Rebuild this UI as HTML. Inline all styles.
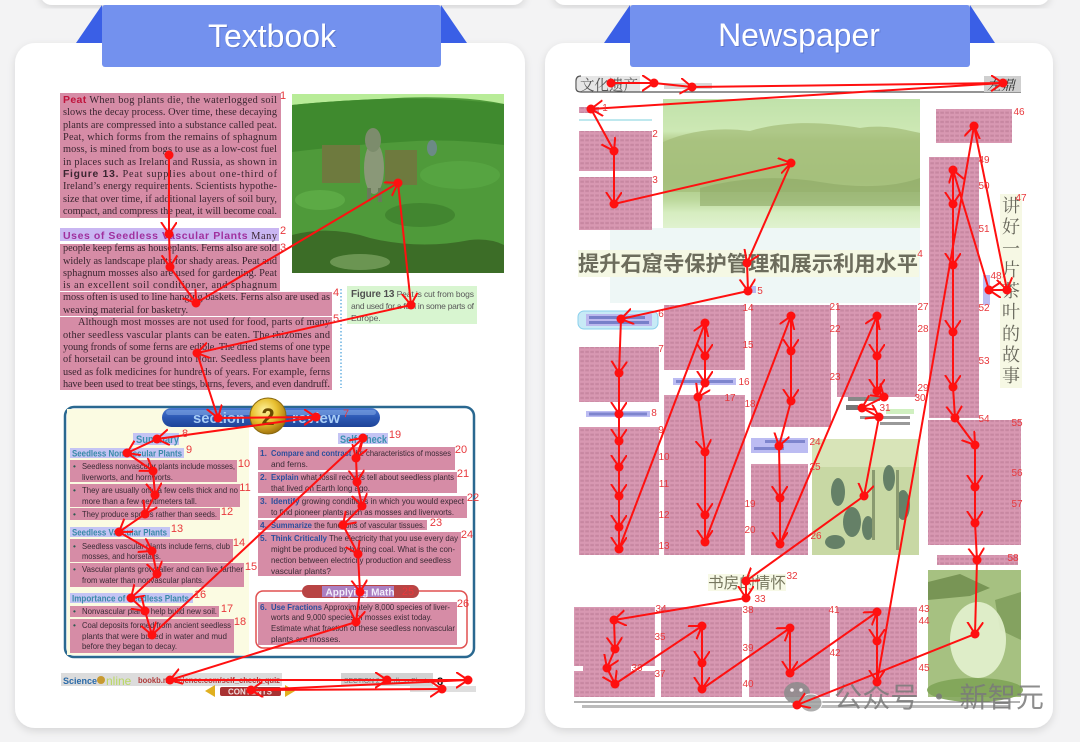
<!DOCTYPE html>
<html><head><meta charset="utf-8"><style>
html,body{margin:0;padding:0;background:#f3f3f4;}
svg{display:block}
</style></head><body>
<svg xmlns="http://www.w3.org/2000/svg" xmlns:xlink="http://www.w3.org/1999/xlink" width="1080" height="742" viewBox="0 0 1080 742" font-family="'Liberation Sans','Noto Sans CJK SC',sans-serif">
<defs>
<filter id="sh" x="-5%" y="-5%" width="110%" height="115%"><feDropShadow dx="0" dy="3" stdDeviation="4" flood-color="#000" flood-opacity="0.12"/></filter>
<marker id="ah" markerUnits="userSpaceOnUse" markerWidth="16" markerHeight="18" refX="12" refY="8" orient="auto"><path d="M0,0 L12,8 L0,16" fill="none" stroke="#ff1010" stroke-width="2"/></marker>
<pattern id="tx" width="5" height="4.6" patternUnits="userSpaceOnUse"><rect x="0.3" y="1.2" width="3.6" height="2.2" fill="#7a3a55" opacity="0.18"/></pattern>
<radialGradient id="gold" cx="0.4" cy="0.35" r="0.7"><stop offset="0" stop-color="#fff4a0"/><stop offset="0.5" stop-color="#e8c030"/><stop offset="1" stop-color="#9a6a08"/></radialGradient>
<linearGradient id="gland" x1="0" y1="0" x2="0" y2="1"><stop offset="0" stop-color="#c0e2aa"/><stop offset="0.25" stop-color="#cde8b4"/><stop offset="0.32" stop-color="#b6cf90"/><stop offset="0.62" stop-color="#a8c582"/><stop offset="0.78" stop-color="#bcd89c"/><stop offset="0.88" stop-color="#d6edc0"/><stop offset="1" stop-color="#e0f2cf"/></linearGradient>
<linearGradient id="pill" x1="0" y1="0" x2="0" y2="1"><stop offset="0" stop-color="#4a78d0"/><stop offset="0.5" stop-color="#2c58b4"/><stop offset="1" stop-color="#1e4498"/></linearGradient>
<g id="nb">
<rect x="579" y="107" width="20" height="6"/>
<rect x="579" y="131" width="73" height="40"/>
<rect x="579" y="177" width="73" height="53"/>
<rect x="936" y="109" width="76" height="34"/>
<rect x="929" y="157" width="50" height="261"/>
<rect x="928" y="420" width="93" height="125"/>
<rect x="937" y="555" width="81" height="10"/>
<rect x="579" y="347" width="80" height="55"/>
<rect x="579" y="427" width="80" height="128"/>
<rect x="664" y="305" width="81" height="65"/>
<rect x="664" y="395" width="81" height="160"/>
<rect x="751" y="305" width="80" height="122"/>
<rect x="751" y="464" width="57" height="91"/>
<rect x="837" y="305" width="80" height="92"/>
<rect x="574" y="607" width="81" height="90"/>
<rect x="661" y="607" width="81" height="90"/>
<rect x="749" y="607" width="81" height="90"/>
<rect x="837" y="607" width="80" height="90"/>
</g>
</defs>

<rect width="1080" height="742" fill="#f3f3f4"/>
<rect x="40" y="-30" width="485" height="35" rx="12" fill="#fff" filter="url(#sh)"/>
<rect x="553" y="-30" width="497" height="35" rx="12" fill="#fff" filter="url(#sh)"/>
<rect x="15" y="43" width="510" height="685" rx="20" fill="#fff" filter="url(#sh)"/>
<rect x="545" y="43" width="508" height="685" rx="20" fill="#fff" filter="url(#sh)"/>

<!-- banners -->
<polygon points="102,5 76,43 102,43" fill="#3a5fe6"/>
<polygon points="441,5 467,43 441,43" fill="#3a5fe6"/>
<rect x="102" y="5" width="339" height="62" rx="3" fill="#7391ee"/>
<text x="273" y="48" font-size="32" fill="#4a60b0" opacity="0.5" text-anchor="middle">Textbook</text>
<text x="272" y="47" font-size="32" fill="#fff" text-anchor="middle">Textbook</text>
<polygon points="630,5 604,43 630,43" fill="#3a5fe6"/>
<polygon points="970,5 995,43 970,43" fill="#3a5fe6"/>
<rect x="630" y="5" width="340" height="62" rx="3" fill="#7391ee"/>
<text x="800" y="47" font-size="32" fill="#4a60b0" opacity="0.5" text-anchor="middle">Newspaper</text>
<text x="799" y="46" font-size="32" fill="#fff" text-anchor="middle">Newspaper</text>

<!-- ============ TEXTBOOK ============ -->
<rect x="60" y="93" width="221" height="125" fill="#d68ca6"/>
<rect x="60" y="228" width="219" height="13" fill="#c9b6f2"/>
<rect x="60" y="244" width="220" height="47" fill="#d68ca6"/>
<rect x="60" y="292" width="272" height="24" fill="#d68ca6"/>
<rect x="60" y="317" width="272" height="73" fill="#d68ca6"/>

<g font-family="'Liberation Serif',serif" font-size="10.3" fill="#3a2530">
<text x="63" y="103" textLength="214" lengthAdjust="spacing"><tspan font-family="'Liberation Sans',sans-serif" font-weight="bold" fill="#c0143c" font-size="10.5">Peat</tspan>  When bog plants die, the waterlogged soil</text>
<text x="63" y="115" textLength="214" lengthAdjust="spacing">slows the decay process. Over time, these decaying</text>
<text x="63" y="128" textLength="214" lengthAdjust="spacing">plants are compressed into a substance called peat.</text>
<text x="63" y="140" textLength="214" lengthAdjust="spacing">Peat, which forms from the remains of sphagnum</text>
<text x="63" y="152" textLength="214" lengthAdjust="spacing">moss, is mined from bogs to use as a low-cost fuel</text>
<text x="63" y="165" textLength="214" lengthAdjust="spacing">in places such as Ireland and Russia, as shown in</text>
<text x="63" y="177" textLength="214" lengthAdjust="spacing"><tspan font-family="'Liberation Sans',sans-serif" font-weight="bold">Figure 13.</tspan>  Peat supplies about one-third of</text>
<text x="63" y="189" textLength="214" lengthAdjust="spacing">Ireland’s energy requirements. Scientists hypothe-</text>
<text x="63" y="202" textLength="214" lengthAdjust="spacing">size that over time, if additional layers of soil bury,</text>
<text x="63" y="214" textLength="214" lengthAdjust="spacing">compact, and compress the peat, it will become coal.</text>
<text x="63" y="239" textLength="214" lengthAdjust="spacing"><tspan font-family="'Liberation Sans',sans-serif" font-weight="bold" fill="#a0309e" font-size="10.5">Uses of Seedless Vascular Plants</tspan>  Many</text>
<text x="63" y="251" textLength="214" lengthAdjust="spacing">people keep ferns as houseplants. Ferns also are sold</text>
<text x="63" y="264" textLength="214" lengthAdjust="spacing">widely as landscape plants for shady areas. Peat and</text>
<text x="63" y="276" textLength="214" lengthAdjust="spacing">sphagnum mosses also are used for gardening. Peat</text>
<text x="63" y="288" textLength="214" lengthAdjust="spacing">is an excellent soil conditioner, and sphagnum</text>
<text x="63" y="300" textLength="267" lengthAdjust="spacing">moss often is used to line hanging baskets. Ferns also are used as</text>
<text x="63" y="313">weaving material for basketry.</text>
<text x="78" y="325" textLength="252" lengthAdjust="spacing">Although most mosses are not used for food, parts of many</text>
<text x="63" y="338" textLength="267" lengthAdjust="spacing">other seedless vascular plants can be eaten. The rhizomes and</text>
<text x="63" y="350" textLength="267" lengthAdjust="spacing">young fronds of some ferns are edible. The dried stems of one type</text>
<text x="63" y="362" textLength="267" lengthAdjust="spacing">of horsetail can be ground into flour. Seedless plants have been</text>
<text x="63" y="375" textLength="267" lengthAdjust="spacing">used as folk medicines for hundreds of years. For example, ferns</text>
<text x="63" y="387" textLength="267" lengthAdjust="spacing">have been used to treat bee stings, burns, fevers, and even dandruff.</text>
</g>

<!-- donkey image -->
<rect x="292" y="94" width="212" height="179" fill="#4f9a3a"/>
<path d="M292,94 H504 V104 Q480,99 455,98 Q420,96 380,99 Q330,101 292,105 Z" fill="#b8ec98"/>
<path d="M292,105 Q330,101 380,99 Q440,97 504,104 V145 Q450,138 400,142 Q340,146 292,152 Z" fill="#3f8a2e"/>
<ellipse cx="460" cy="175" rx="40" ry="14" fill="#5aa844" opacity="0.7"/>
<ellipse cx="320" cy="200" rx="25" ry="10" fill="#62b04a" opacity="0.7"/>
<ellipse cx="420" cy="215" rx="35" ry="12" fill="#3a7a2a" opacity="0.6"/>
<path d="M292,235 Q330,225 370,238 Q420,250 470,240 Q490,238 504,245 V273 H292Z" fill="#355e22" opacity="0.75"/>
<ellipse cx="360" cy="262" rx="30" ry="8" fill="#8ab070" opacity="0.6"/>
<rect x="322" y="145" width="38" height="38" fill="#6e7a3e"/>
<rect x="385" y="150" width="32" height="35" fill="#6e7a3e"/>
<ellipse cx="374" cy="168" rx="10" ry="26" fill="#8a9878"/>
<ellipse cx="373" cy="140" rx="8" ry="12" fill="#7c8c6c"/>
<rect x="367" y="188" width="4" height="14" fill="#6a7a5a"/>
<rect x="378" y="188" width="4" height="14" fill="#6a7a5a"/>
<ellipse cx="432" cy="148" rx="5" ry="8" fill="#6c8a86"/>

<!-- figure caption -->
<rect x="347" y="286" width="130" height="38" fill="#d8f5d0"/>
<g fill="#5a5a5a" font-size="8.5">
<text x="351" y="297" textLength="123" lengthAdjust="spacing"><tspan font-weight="bold" font-size="10" fill="#505050">Figure 13</tspan>  Peat is cut from bogs</text>
<text x="351" y="309" textLength="123" lengthAdjust="spacing">and used for a fuel in some parts of</text>
<text x="351" y="321">Europe.</text>
</g>
<line x1="341" y1="289" x2="341" y2="388" stroke="#6ab2e2" stroke-width="1.5" stroke-dasharray="1.5 2"/>

<!-- section review -->
<rect x="65" y="407" width="409" height="250" rx="9" fill="#fff" stroke="#2a6890" stroke-width="2.5"/>
<rect x="67" y="409" width="182" height="246" fill="#fbfbe2"/>
<rect x="162" y="408" width="218" height="19" rx="9.5" fill="url(#pill)"/>
<rect x="166" y="410" width="210" height="5" rx="2.5" fill="#8ab0ea" opacity="0.5"/>
<text x="193" y="423" font-size="15" font-weight="bold" fill="#a8cdf6" textLength="52" lengthAdjust="spacingAndGlyphs">section</text>
<text x="292" y="423" font-size="15" font-weight="bold" fill="#a8cdf6" textLength="48" lengthAdjust="spacingAndGlyphs">review</text>
<circle cx="268" cy="416" r="18" fill="url(#gold)" stroke="#8a6a10" stroke-width="1"/>
<text x="268" y="425" font-size="24" font-weight="bold" fill="#6a4a00" text-anchor="middle">2</text>

<rect x="133" y="433" width="46" height="12" fill="#c4c4f4"/>
<text x="136" y="443" font-size="11" font-weight="bold" fill="#3c90b0" textLength="43" lengthAdjust="spacingAndGlyphs">Summary</text>
<rect x="70" y="448" width="114" height="10" fill="#c4c4f4"/>
<text x="72" y="456.5" font-size="9" font-weight="bold" fill="#3a8aa8" textLength="110" lengthAdjust="spacingAndGlyphs">Seedless Nonvascular Plants</text>
<rect x="70" y="460" width="167" height="22" fill="#d68ca6"/>
<rect x="70" y="484" width="170" height="23" fill="#d68ca6"/>
<rect x="70" y="508" width="150" height="12" fill="#d68ca6"/>
<rect x="70" y="527" width="100" height="10" fill="#c4c4f4"/>
<text x="72" y="535.5" font-size="9" font-weight="bold" fill="#3a8aa8" textLength="95" lengthAdjust="spacingAndGlyphs">Seedless Vascular Plants</text>
<rect x="70" y="539" width="163" height="23" fill="#d68ca6"/>
<rect x="70" y="563" width="174" height="24" fill="#d68ca6"/>
<rect x="70" y="593" width="123" height="10" fill="#c4c4f4"/>
<text x="72" y="601.5" font-size="9" font-weight="bold" fill="#3a8aa8" textLength="117" lengthAdjust="spacingAndGlyphs">Importance of Seedless Plants</text>
<rect x="70" y="606" width="149" height="11" fill="#d68ca6"/>
<rect x="70" y="619" width="164" height="34" fill="#d68ca6"/>

<g font-size="8.3" fill="#3a2a35">
<g fill="#2a5a50"><text x="73" y="469">•</text><text x="73" y="493">•</text><text x="73" y="517">•</text><text x="73" y="549">•</text><text x="73" y="572">•</text><text x="73" y="614">•</text><text x="73" y="628">•</text></g>
<text x="82" y="469" textLength="153" lengthAdjust="spacingAndGlyphs">Seedless nonvascular plants include mosses,</text>
<text x="82" y="480" textLength="91" lengthAdjust="spacingAndGlyphs">liverworts, and hornworts.</text>
<text x="82" y="493" textLength="156" lengthAdjust="spacingAndGlyphs">They are usually only a few cells thick and no</text>
<text x="82" y="504" textLength="115" lengthAdjust="spacingAndGlyphs">more than a few centimeters tall.</text>
<text x="82" y="517" textLength="135" lengthAdjust="spacingAndGlyphs">They produce spores rather than seeds.</text>
<text x="82" y="549" textLength="148" lengthAdjust="spacingAndGlyphs">Seedless vascular plants include ferns, club</text>
<text x="82" y="559" textLength="79" lengthAdjust="spacingAndGlyphs">mosses, and horsetails.</text>
<text x="82" y="572" textLength="161" lengthAdjust="spacingAndGlyphs">Vascular plants grow taller and can live farther</text>
<text x="82" y="583" textLength="122" lengthAdjust="spacingAndGlyphs">from water than nonvascular plants.</text>
<text x="82" y="614" textLength="135" lengthAdjust="spacingAndGlyphs">Nonvascular plants help build new soil.</text>
<text x="82" y="628" textLength="149" lengthAdjust="spacingAndGlyphs">Coal deposits formed from ancient seedless</text>
<text x="82" y="639" textLength="145" lengthAdjust="spacingAndGlyphs">plants that were buried in water and mud</text>
<text x="82" y="649" textLength="95" lengthAdjust="spacingAndGlyphs">before they began to decay.</text>
</g>

<rect x="338" y="433" width="50" height="11" fill="#c4c4f4"/>
<text x="340" y="443" font-size="11" font-weight="bold" fill="#3c90b0" textLength="47" lengthAdjust="spacingAndGlyphs">Self Check</text>
<rect x="258" y="447" width="197" height="23" fill="#d68ca6"/>
<rect x="258" y="472" width="199" height="21" fill="#d68ca6"/>
<rect x="258" y="496" width="209" height="22" fill="#d68ca6"/>
<rect x="258" y="520" width="169" height="10" fill="#d68ca6"/>
<rect x="258" y="532" width="203" height="44" fill="#d68ca6"/>
<rect x="256" y="591" width="211" height="57" rx="7" fill="none" stroke="#e05050" stroke-width="1.5"/>
<rect x="258" y="602" width="199" height="43" fill="#d68ca6"/>
<rect x="302" y="585" width="117" height="13" rx="6.5" fill="#b84444"/>
<rect x="322" y="586" width="72" height="11" fill="#a88ad8" opacity="0.85"/>
<text x="360" y="595.5" font-size="10" font-weight="bold" fill="#f2eefa" text-anchor="middle">Applying Math</text>

<g font-size="8.3" fill="#3a2a35">
<g font-weight="bold" fill="#2c4f9c"><text x="260" y="456">1.</text><text x="260" y="480">2.</text><text x="260" y="504">3.</text><text x="260" y="528">4.</text><text x="260" y="541">5.</text><text x="260" y="610">6.</text></g>
<text x="271" y="456" textLength="180" lengthAdjust="spacingAndGlyphs"><tspan font-weight="bold" fill="#2c4f9c">Compare and contrast</tspan> the characteristics of mosses</text>
<text x="271" y="467">and ferns.</text>
<text x="271" y="480" textLength="183" lengthAdjust="spacingAndGlyphs"><tspan font-weight="bold" fill="#2c4f9c">Explain</tspan> what fossil records tell about seedless plants</text>
<text x="271" y="491" textLength="99" lengthAdjust="spacingAndGlyphs">that lived on Earth long ago.</text>
<text x="271" y="504" textLength="193" lengthAdjust="spacingAndGlyphs"><tspan font-weight="bold" fill="#2c4f9c">Identify</tspan> growing conditions in which you would expect</text>
<text x="271" y="515" textLength="183" lengthAdjust="spacingAndGlyphs">to find pioneer plants such as mosses and liverworts.</text>
<text x="271" y="528" textLength="154" lengthAdjust="spacingAndGlyphs"><tspan font-weight="bold" fill="#2c4f9c">Summarize</tspan> the functions of vascular tissues.</text>
<text x="271" y="541" textLength="187" lengthAdjust="spacingAndGlyphs"><tspan font-weight="bold" fill="#2c4f9c">Think Critically</tspan>  The electricity that you use every day</text>
<text x="271" y="552" textLength="184" lengthAdjust="spacingAndGlyphs">might be produced by burning coal. What is the con-</text>
<text x="271" y="563" textLength="180" lengthAdjust="spacingAndGlyphs">nection between electricity production and seedless</text>
<text x="271" y="574">vascular plants?</text>
<text x="271" y="610" textLength="179" lengthAdjust="spacingAndGlyphs"><tspan font-weight="bold" fill="#2c4f9c">Use Fractions</tspan>  Approximately 8,000 species of liver-</text>
<text x="271" y="620" textLength="161" lengthAdjust="spacingAndGlyphs">worts and 9,000 species of mosses exist today.</text>
<text x="271" y="631" textLength="184" lengthAdjust="spacingAndGlyphs">Estimate what fraction of these seedless nonvascular</text>
<text x="271" y="642">plants are mosses.</text>
</g>

<!-- footer textbook -->
<rect x="61" y="673" width="221" height="13" fill="#dcdcdc"/>
<text x="63" y="684" font-size="9" font-weight="bold" fill="#2a6aa8">Science</text>
<circle cx="101" cy="680" r="4" fill="#c89a30"/>
<text x="106" y="685" font-size="12" fill="#b8d860">nline</text>
<text x="138" y="683" font-size="8" font-weight="bold" fill="#b03a3a" textLength="142" lengthAdjust="spacingAndGlyphs">bookb.msscience.com/self_check_quiz</text>
<rect x="341" y="673" width="92" height="13" fill="#d2d2d2"/>
<text x="344" y="683" font-size="7" fill="#777" textLength="86" lengthAdjust="spacingAndGlyphs">SECTION 2  Seedless Plants</text>
<text x="437" y="685" font-size="11" font-weight="bold" fill="#111">8</text>
<rect x="410" y="686" width="66" height="6" fill="#dedede"/>
<polygon points="215,685 205,691 215,697" fill="#e0b020"/>
<polygon points="285,685 295,691 285,697" fill="#e0b020"/>
<rect x="220" y="687" width="61" height="9" rx="2" fill="#a83232"/>
<text x="250" y="694.5" font-size="8" font-weight="bold" fill="#f0e0e0" text-anchor="middle">CONTENTS</text>

<!-- ============ NEWSPAPER ============ -->
<rect x="610" y="228" width="310" height="75" fill="#eef7f6"/>
<rect x="577" y="76" width="63" height="16" fill="#e6e6e6"/>
<text x="580" y="90" font-size="15" font-family="'Noto Serif CJK SC','Noto Sans CJK SC',serif" fill="#555" textLength="58" lengthAdjust="spacingAndGlyphs">文化遗产</text>
<path d="M581,76 Q576,76 576,81 V88 Q576,92 581,92 H1021" stroke="#555" fill="none" stroke-width="1.2"/>
<rect x="664" y="83" width="48" height="6" fill="#d8d8d8"/>
<rect x="984" y="76" width="37" height="16" fill="#cfcfcf"/>
<text x="987" y="90" font-size="14" font-style="italic" font-family="'Noto Serif CJK SC',serif" fill="#333">左鼎</text>
<line x1="579" y1="120" x2="652" y2="120" stroke="#a8e0e8" stroke-width="1.5"/>

<use xlink:href="#nb" href="#nb" fill="#d898b2"/>
<use xlink:href="#nb" href="#nb" fill="url(#tx)"/>
<rect x="574" y="666" width="9" height="5" fill="#fff"/>
<rect x="631" y="666" width="24" height="5" fill="#fff"/>

<!-- landscape image -->
<rect x="663" y="99" width="257" height="129" fill="url(#gland)"/>
<path d="M663,142 C690,130 720,127 750,131 C790,119 830,123 860,128 C885,124 905,130 920,133 V192 H663Z" fill="#a4bd7a" opacity="0.75"/>
<path d="M700,188 Q760,172 820,182 T920,178 V206 H700Z" fill="#8ea866" opacity="0.6"/>

<!-- title -->
<rect x="578" y="250" width="341" height="27" fill="#f5f8e4"/>
<text x="578" y="271" font-size="21" font-weight="bold" font-family="'Liberation Sans','Noto Sans CJK SC',sans-serif" fill="#6c6c5c" textLength="340" lengthAdjust="spacingAndGlyphs">提升石窟寺保护管理和展示利用水平</text>
<rect x="750" y="286" width="6" height="7" fill="#b8b8f0"/>

<!-- item 6 bubble -->
<rect x="578" y="311" width="80" height="18" rx="6" fill="#c8eaf6" stroke="#8ad0ec" stroke-width="1"/>
<rect x="586" y="314" width="66" height="12" fill="#bcb8ee"/>
<rect x="589" y="316" width="56" height="3" fill="#4a58b0" opacity="0.6"/>
<rect x="589" y="321" width="60" height="3" fill="#4a58b0" opacity="0.6"/>

<!-- lavender tags -->
<rect x="586" y="411" width="64" height="6" fill="#bcbcf2"/><rect x="589" y="412.5" width="58" height="3" fill="#4a58b0" opacity="0.55"/>
<rect x="673" y="378" width="63" height="7" fill="#bcbcf2"/><rect x="676" y="380" width="57" height="3" fill="#4a58b0" opacity="0.55"/>
<rect x="751" y="438" width="57" height="15" fill="#bcbcf2"/><rect x="765" y="440" width="40" height="3" fill="#4a58b0" opacity="0.55"/><rect x="754" y="447" width="30" height="3" fill="#4a58b0" opacity="0.55"/>
<rect x="983" y="275" width="7" height="30" fill="#bcbcf2"/>

<!-- col D small items -->
<rect x="848" y="397" width="32" height="4" fill="#888"/>
<rect x="846" y="405" width="12" height="5" fill="#777"/>
<rect x="886" y="409" width="28" height="5" fill="#d0f0c0"/>
<rect x="860" y="416" width="50" height="3" fill="#999"/>
<rect x="880" y="422" width="30" height="3" fill="#999"/>

<!-- people image -->
<rect x="812" y="439" width="107" height="116" fill="#c8d8a4"/>
<rect x="812" y="439" width="107" height="28" fill="#d8e4b8"/>
<g fill="#4d6b58" opacity="0.8">
<ellipse cx="838" cy="492" rx="7" ry="14"/><ellipse cx="852" cy="522" rx="9" ry="15"/><ellipse cx="835" cy="542" rx="10" ry="7"/>
<ellipse cx="889" cy="478" rx="6" ry="13"/><ellipse cx="903" cy="505" rx="7" ry="15"/><ellipse cx="868" cy="528" rx="6" ry="12"/>
</g>
<rect x="872" y="470" width="3" height="70" fill="#8a9a70"/><rect x="896" y="470" width="3" height="80" fill="#8a9a70"/>

<!-- pagoda image -->
<rect x="928" y="570" width="93" height="127" fill="#a6c181"/>
<polygon points="928,582 960,574 990,588 970,596 928,600" fill="#6d8a4a" opacity="0.8"/>
<polygon points="995,600 1021,592 1021,640 1000,630" fill="#7c9a58" opacity="0.8"/>
<ellipse cx="978" cy="640" rx="28" ry="38" fill="#e4f2cf" opacity="0.9"/>
<ellipse cx="975" cy="690" rx="48" ry="12" fill="#7fa457" opacity="0.9"/>

<!-- second title -->
<rect x="708" y="574" width="78" height="17" fill="#f7f9e6"/>
<text x="708" y="588" font-size="15.5" font-family="'Noto Sans CJK SC',sans-serif" fill="#77775f" textLength="78" lengthAdjust="spacingAndGlyphs">书房的情怀</text>

<!-- vertical title -->
<rect x="1000" y="194" width="22" height="194" fill="#f6f8e4"/>
<g font-size="18" font-family="'Noto Serif CJK SC','Noto Sans CJK SC',serif" fill="#66665a" text-anchor="middle">
<text x="1011" y="212">讲</text><text x="1011" y="233">好</text><text x="1011" y="255">一</text><text x="1011" y="276">片</text><text x="1011" y="297">茶</text><text x="1011" y="318">叶</text><text x="1011" y="340">的</text><text x="1011" y="361">故</text><text x="1011" y="382">事</text>
</g>

<!-- bottom rule -->
<line x1="574" y1="702" x2="1020" y2="702" stroke="#666" stroke-width="1"/>
<rect x="582" y="705" width="428" height="3" fill="#bbb"/>

<!-- watermark -->
<g opacity="0.85">
<ellipse cx="797" cy="693" rx="13" ry="11" fill="#8c8c8c"/>
<ellipse cx="811" cy="703" rx="11" ry="9" fill="#a0a0a0" stroke="#fff" stroke-width="1"/>
<circle cx="792" cy="690" r="1.8" fill="#fff"/><circle cx="801" cy="690" r="1.8" fill="#fff"/>
<text x="834" y="707" font-size="28" font-family="'Noto Sans CJK SC',sans-serif" fill="#7a7a7a" textLength="210" lengthAdjust="spacingAndGlyphs">公众号 · 新智元</text>
</g>

<!-- ============ ARROWS ============ -->
<g stroke="#ff1010" stroke-width="2" marker-end="url(#ah)">
<line x1="169" y1="155" x2="169" y2="234"/><line x1="169" y1="234" x2="170" y2="267"/><line x1="170" y1="267" x2="196" y2="303"/><line x1="196" y1="303" x2="398" y2="183"/><line x1="398" y1="183" x2="411" y2="305"/><line x1="411" y1="305" x2="197" y2="353"/><line x1="197" y1="353" x2="218" y2="418"/><line x1="218" y1="418" x2="316" y2="417"/><line x1="316" y1="417" x2="157" y2="439"/><line x1="157" y1="439" x2="127" y2="453"/><line x1="127" y1="453" x2="153" y2="471"/><line x1="153" y1="471" x2="155" y2="495"/><line x1="155" y1="495" x2="145" y2="514"/><line x1="145" y1="514" x2="119" y2="532"/><line x1="119" y1="532" x2="152" y2="551"/><line x1="152" y1="551" x2="157" y2="574"/><line x1="157" y1="574" x2="131" y2="598"/><line x1="131" y1="598" x2="145" y2="611"/><line x1="145" y1="611" x2="152" y2="635"/><line x1="152" y1="635" x2="363" y2="438"/><line x1="363" y1="438" x2="356" y2="458"/><line x1="356" y1="458" x2="357" y2="482"/><line x1="357" y1="482" x2="362" y2="506"/><line x1="362" y1="506" x2="343" y2="525"/><line x1="343" y1="525" x2="358" y2="554"/><line x1="358" y1="554" x2="360" y2="592"/><line x1="360" y1="592" x2="356" y2="622"/><line x1="356" y1="622" x2="170" y2="680"/><line x1="170" y1="680" x2="387" y2="680"/><line x1="387" y1="680" x2="468" y2="680"/><line x1="468" y1="680" x2="251" y2="690"/><line x1="251" y1="690" x2="442" y2="689"/>

<line x1="611" y1="83" x2="654" y2="83"/><line x1="654" y1="83" x2="692" y2="87"/><line x1="692" y1="87" x2="1003" y2="83"/><line x1="1003" y1="83" x2="591" y2="109"/><line x1="591" y1="109" x2="614" y2="151"/><line x1="614" y1="151" x2="614" y2="204"/><line x1="614" y1="204" x2="791" y2="163"/><line x1="791" y1="163" x2="747" y2="263"/><line x1="747" y1="263" x2="748" y2="291"/><line x1="748" y1="291" x2="621" y2="319"/><line x1="621" y1="319" x2="619" y2="373"/><line x1="619" y1="373" x2="619" y2="414"/><line x1="619" y1="414" x2="619" y2="441"/><line x1="619" y1="441" x2="619" y2="467"/><line x1="619" y1="467" x2="619" y2="496"/><line x1="619" y1="496" x2="619" y2="527"/><line x1="619" y1="527" x2="619" y2="549"/><line x1="619" y1="549" x2="705" y2="323"/><line x1="705" y1="323" x2="705" y2="356"/><line x1="705" y1="356" x2="705" y2="383"/><line x1="705" y1="383" x2="698" y2="397"/><line x1="698" y1="397" x2="705" y2="452"/><line x1="705" y1="452" x2="705" y2="515"/><line x1="705" y1="515" x2="705" y2="542"/><line x1="705" y1="542" x2="791" y2="316"/><line x1="791" y1="316" x2="791" y2="351"/><line x1="791" y1="351" x2="791" y2="401"/><line x1="791" y1="401" x2="779" y2="446"/><line x1="779" y1="446" x2="780" y2="498"/><line x1="780" y1="498" x2="780" y2="544"/><line x1="780" y1="544" x2="877" y2="316"/><line x1="877" y1="316" x2="877" y2="356"/><line x1="877" y1="356" x2="877" y2="391"/><line x1="877" y1="391" x2="884" y2="397"/><line x1="884" y1="397" x2="862" y2="408"/><line x1="862" y1="408" x2="879" y2="417"/><line x1="879" y1="417" x2="864" y2="496"/><line x1="864" y1="496" x2="746" y2="581"/><line x1="746" y1="581" x2="746" y2="598"/><line x1="746" y1="598" x2="614" y2="620"/><line x1="614" y1="620" x2="615" y2="649"/><line x1="615" y1="649" x2="607" y2="668"/><line x1="607" y1="668" x2="615" y2="684"/><line x1="615" y1="684" x2="702" y2="626"/><line x1="702" y1="626" x2="702" y2="663"/><line x1="702" y1="663" x2="702" y2="689"/><line x1="702" y1="689" x2="790" y2="628"/><line x1="790" y1="628" x2="790" y2="673"/><line x1="790" y1="673" x2="877" y2="612"/><line x1="877" y1="612" x2="877" y2="641"/><line x1="877" y1="641" x2="877" y2="682"/><line x1="877" y1="682" x2="974" y2="126"/><line x1="974" y1="126" x2="1007" y2="290"/><line x1="1007" y1="290" x2="989" y2="290"/><line x1="989" y1="290" x2="953" y2="170"/><line x1="953" y1="170" x2="953" y2="204"/><line x1="953" y1="204" x2="953" y2="265"/><line x1="953" y1="265" x2="953" y2="332"/><line x1="953" y1="332" x2="953" y2="387"/><line x1="953" y1="387" x2="955" y2="418"/><line x1="955" y1="418" x2="975" y2="445"/><line x1="975" y1="445" x2="975" y2="487"/><line x1="975" y1="487" x2="975" y2="523"/><line x1="975" y1="523" x2="977" y2="560"/><line x1="977" y1="560" x2="975" y2="634"/><line x1="975" y1="634" x2="797" y2="705"/>
</g>
<g fill="#ff1010">
<circle cx="169" cy="155" r="4.5"/><circle cx="169" cy="234" r="4.5"/><circle cx="170" cy="267" r="4.5"/><circle cx="196" cy="303" r="4.5"/><circle cx="398" cy="183" r="4.5"/><circle cx="411" cy="305" r="4.5"/><circle cx="197" cy="353" r="4.5"/><circle cx="218" cy="418" r="4.5"/><circle cx="316" cy="417" r="4.5"/><circle cx="157" cy="439" r="4.5"/><circle cx="127" cy="453" r="4.5"/><circle cx="153" cy="471" r="4.5"/><circle cx="155" cy="495" r="4.5"/><circle cx="145" cy="514" r="4.5"/><circle cx="119" cy="532" r="4.5"/><circle cx="152" cy="551" r="4.5"/><circle cx="157" cy="574" r="4.5"/><circle cx="131" cy="598" r="4.5"/><circle cx="145" cy="611" r="4.5"/><circle cx="152" cy="635" r="4.5"/><circle cx="363" cy="438" r="4.5"/><circle cx="356" cy="458" r="4.5"/><circle cx="357" cy="482" r="4.5"/><circle cx="362" cy="506" r="4.5"/><circle cx="343" cy="525" r="4.5"/><circle cx="358" cy="554" r="4.5"/><circle cx="360" cy="592" r="4.5"/><circle cx="356" cy="622" r="4.5"/><circle cx="170" cy="680" r="4.5"/><circle cx="387" cy="680" r="4.5"/><circle cx="468" cy="680" r="4.5"/><circle cx="251" cy="690" r="4.5"/><circle cx="442" cy="689" r="4.5"/>
<circle cx="611" cy="83" r="4.5"/><circle cx="654" cy="83" r="4.5"/><circle cx="692" cy="87" r="4.5"/><circle cx="1003" cy="83" r="4.5"/><circle cx="591" cy="109" r="4.5"/><circle cx="614" cy="151" r="4.5"/><circle cx="614" cy="204" r="4.5"/><circle cx="791" cy="163" r="4.5"/><circle cx="747" cy="263" r="4.5"/><circle cx="748" cy="291" r="4.5"/><circle cx="621" cy="319" r="4.5"/><circle cx="619" cy="373" r="4.5"/><circle cx="619" cy="414" r="4.5"/><circle cx="619" cy="441" r="4.5"/><circle cx="619" cy="467" r="4.5"/><circle cx="619" cy="496" r="4.5"/><circle cx="619" cy="527" r="4.5"/><circle cx="619" cy="549" r="4.5"/><circle cx="705" cy="323" r="4.5"/><circle cx="705" cy="356" r="4.5"/><circle cx="705" cy="383" r="4.5"/><circle cx="698" cy="397" r="4.5"/><circle cx="705" cy="452" r="4.5"/><circle cx="705" cy="515" r="4.5"/><circle cx="705" cy="542" r="4.5"/><circle cx="791" cy="316" r="4.5"/><circle cx="791" cy="351" r="4.5"/><circle cx="791" cy="401" r="4.5"/><circle cx="779" cy="446" r="4.5"/><circle cx="780" cy="498" r="4.5"/><circle cx="780" cy="544" r="4.5"/><circle cx="877" cy="316" r="4.5"/><circle cx="877" cy="356" r="4.5"/><circle cx="877" cy="391" r="4.5"/><circle cx="884" cy="397" r="4.5"/><circle cx="862" cy="408" r="4.5"/><circle cx="879" cy="417" r="4.5"/><circle cx="864" cy="496" r="4.5"/><circle cx="746" cy="581" r="4.5"/><circle cx="746" cy="598" r="4.5"/><circle cx="614" cy="620" r="4.5"/><circle cx="615" cy="649" r="4.5"/><circle cx="607" cy="668" r="4.5"/><circle cx="615" cy="684" r="4.5"/><circle cx="702" cy="626" r="4.5"/><circle cx="702" cy="663" r="4.5"/><circle cx="702" cy="689" r="4.5"/><circle cx="790" cy="628" r="4.5"/><circle cx="790" cy="673" r="4.5"/><circle cx="877" cy="612" r="4.5"/><circle cx="877" cy="641" r="4.5"/><circle cx="877" cy="682" r="4.5"/><circle cx="974" cy="126" r="4.5"/><circle cx="1007" cy="290" r="4.5"/><circle cx="989" cy="290" r="4.5"/><circle cx="953" cy="170" r="4.5"/><circle cx="953" cy="204" r="4.5"/><circle cx="953" cy="265" r="4.5"/><circle cx="953" cy="332" r="4.5"/><circle cx="953" cy="387" r="4.5"/><circle cx="955" cy="418" r="4.5"/><circle cx="975" cy="445" r="4.5"/><circle cx="975" cy="487" r="4.5"/><circle cx="975" cy="523" r="4.5"/><circle cx="977" cy="560" r="4.5"/><circle cx="975" cy="634" r="4.5"/><circle cx="797" cy="705" r="4.5"/>
</g>

<!-- ============ LABELS ============ -->
<g font-size="11" fill="#e8383c" text-anchor="middle">
<text x="283" y="99">1</text><text x="283" y="234">2</text><text x="283" y="251">3</text><text x="336" y="296">4</text><text x="336" y="322">5</text><text x="346" y="417">7</text><text x="185" y="437">8</text><text x="189" y="453">9</text><text x="244" y="467">10</text><text x="245" y="491">11</text><text x="227" y="515">12</text><text x="177" y="532">13</text><text x="239" y="546">14</text><text x="251" y="570">15</text><text x="200" y="598">16</text><text x="227" y="612">17</text><text x="240" y="625">18</text><text x="395" y="438">19</text><text x="461" y="453">20</text><text x="463" y="477">21</text><text x="473" y="501">22</text><text x="436" y="526">23</text><text x="467" y="538">24</text><text x="408" y="595">25</text><text x="463" y="607">26</text>
</g>
<g font-size="10" fill="#e8383c" text-anchor="middle">
<text x="605" y="111">1</text><text x="655" y="137">2</text><text x="655" y="183">3</text><text x="920" y="257">4</text><text x="760" y="294">5</text><text x="661" y="317">6</text><text x="661" y="352">7</text><text x="654" y="416">8</text><text x="661" y="433">9</text><text x="664" y="460">10</text><text x="664" y="487">11</text><text x="664" y="518">12</text><text x="664" y="549">13</text><text x="748" y="311">14</text><text x="748" y="348">15</text><text x="744" y="385">16</text><text x="730" y="401">17</text><text x="750" y="407">18</text><text x="750" y="507">19</text><text x="750" y="533">20</text><text x="835" y="310">21</text><text x="835" y="332">22</text><text x="835" y="380">23</text><text x="815" y="445">24</text><text x="815" y="470">25</text><text x="816" y="539">26</text><text x="923" y="310">27</text><text x="923" y="332">28</text><text x="923" y="391">29</text><text x="920" y="401">30</text><text x="885" y="411">31</text><text x="792" y="579">32</text><text x="760" y="602">33</text><text x="661" y="612">34</text><text x="660" y="640">35</text><text x="637" y="671">36</text><text x="660" y="677">37</text><text x="748" y="613">38</text><text x="748" y="651">39</text><text x="748" y="687">40</text><text x="834" y="613">41</text><text x="835" y="656">42</text><text x="924" y="612">43</text><text x="924" y="624">44</text><text x="924" y="671">45</text><text x="1019" y="115">46</text><text x="1021" y="201">47</text><text x="996" y="279">48</text><text x="984" y="163">49</text><text x="984" y="189">50</text><text x="984" y="232">51</text><text x="984" y="311">52</text><text x="984" y="364">53</text><text x="984" y="422">54</text><text x="1017" y="426">55</text><text x="1017" y="476">56</text><text x="1017" y="507">57</text><text x="1013" y="561">58</text>
</g>
</svg>
</body></html>
